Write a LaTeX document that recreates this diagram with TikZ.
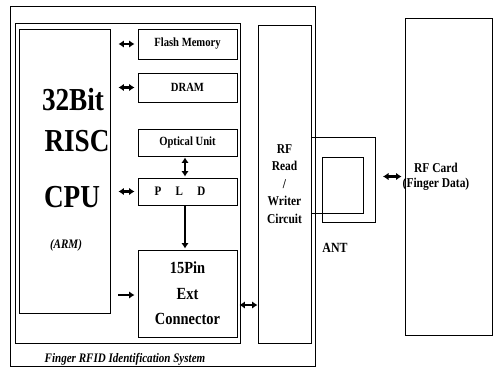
\documentclass[tikz,border=0pt]{standalone}
\usepackage{fontspec}
\setmainfont{Liberation Serif}[FakeStretch=0.85]
\usetikzlibrary{arrows.meta}

\begin{document}
\begin{tikzpicture}[x=1pt,y=-1pt,
    blk/.style={draw,line width=0.9pt,inner sep=0pt,font=\bfseries\fontsize{12.5}{14}\selectfont},
    big/.style={font=\bfseries\fontsize{32}{34}\selectfont,inner sep=0pt},
    bus/.style={line width=2.2pt,{Latex[length=5.5pt,width=7.5pt]}-{Latex[length=5.5pt,width=7.5pt]}},
    one/.style={line width=2pt,-{Latex[length=5.5pt,width=7.5pt]}}]
  \useasboundingbox (0,0) rectangle (495,369);
  % frames
  \node[blk,minimum width=305,minimum height=360] (sys) at (162.5,186.5) {};
  \node[blk,minimum width=225,minimum height=320] (board) at (127.5,183) {};
  \node[font=\bfseries\itshape\fontsize{13}{15}\selectfont,inner sep=0pt] (systxt) at (125,359)
    {Finger RFID Identification System};
  % cpu
  \node[blk,minimum width=91,minimum height=284] (cpu) at (64.5,171) {};
  \node[big] (bit) at (73,100) {32Bit};
  \node[big] (risc) at (77,141) {RISC};
  \node[big] (core) at (72,197) {CPU};
  \node[font=\bfseries\itshape\fontsize{13}{15}\selectfont,inner sep=0pt] (arm) at (66,245) {(ARM)};
  % peripherals
  \node[blk,minimum width=99,minimum height=30] (flash) at (187.5,44) {Flash Memory};
  \node[blk,minimum width=99,minimum height=29] (dram) at (187.5,87.5) {DRAM};
  \node[blk,minimum width=99,minimum height=27] (opt) at (187.5,142.5) {Optical Unit};
  \node[blk,minimum width=99,minimum height=27] (pld) at (187.5,191.5) {};
  \node[font=\bfseries\fontsize{13}{15}\selectfont,inner sep=0pt] (pldtxt) at (180,191.5)
    {P\hspace{1.1em}L\hspace{1.1em}D};
  \node[blk,minimum width=99,minimum height=87,align=center,
    font=\bfseries\fontsize{17}{25.5}\selectfont] (ext) at (187.5,293.5) {15Pin\\Ext\\Connector};
  % rf side
  \node[blk,minimum width=53,minimum height=318,align=center,
    font=\bfseries\fontsize{13.5}{17.5}\selectfont] (rf) at (284.5,184) {RF\\Read\\/\\Writer\\Circuit};
  \node[blk,minimum width=87,minimum height=317] (card) at (448.5,176.5) {};
  \node[font=\bfseries\fontsize{13.5}{15.5}\selectfont,align=center,inner sep=0pt] (cardtxt) at (436,177)
    {RF Card\\(Finger Data)};
  % antenna
  \draw[line width=0.9pt] (rf.east |- 0,137) -- (375,137) -- (375,222) -- (322,222) -- (322,157)
    -- (363,157) -- (363,213) -- (rf.east |- 0,213);
  \node[font=\bfseries\fontsize{14}{16}\selectfont,inner sep=0pt] (ant) at (335,248) {ANT};
  \coordinate (antR) at (375,176.5);
  % links
  \draw[bus,shorten <=8pt,shorten >=3pt] (cpu.east |- flash) -- (flash);
  \draw[bus,shorten <=8pt,shorten >=3pt] (cpu.east |- dram) -- (dram);
  \draw[bus,shorten <=8pt,shorten >=3pt] (cpu.east |- pld) -- (pld);
  \draw[one,shorten <=8pt,shorten >=3pt] (cpu.east |- 0,295) -- (ext.west |- 0,295);
  \draw[bus,shorten <=1pt,shorten >=1pt] (opt.south -| 185,0) -- (pld.north -| 185,0);
  \draw[one,line width=1.5pt,shorten <=1pt,shorten >=1pt] (pld.south -| 185,0) -- (ext.north -| 185,0);
  \draw[bus,shorten <=2pt] (ext.east |- 0,305) -- (rf.west |- 0,305);
  \draw[bus,shorten <=8pt,shorten >=3pt] (antR) -- (card.west);
\end{tikzpicture}
\end{document}
